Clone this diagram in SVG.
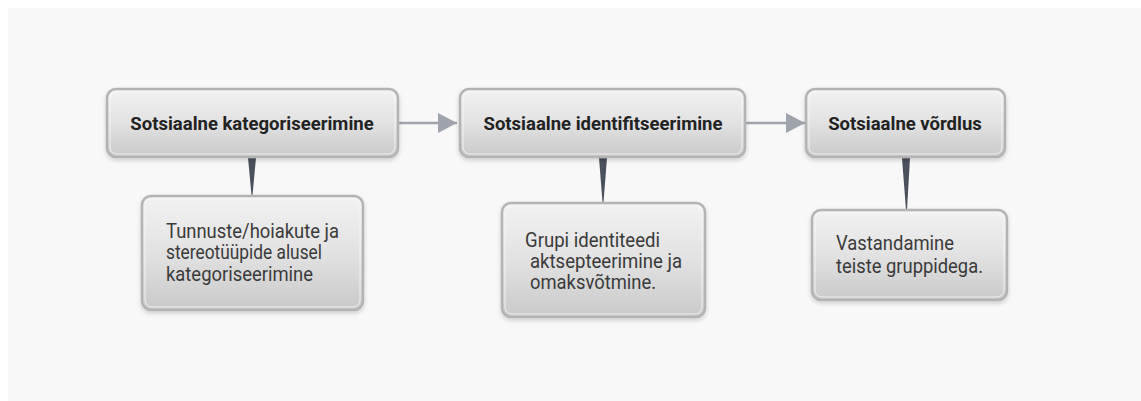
<svg xmlns="http://www.w3.org/2000/svg" width="1141" height="401" viewBox="0 0 1141 401">
<defs>
<linearGradient id="g" x1="0" y1="0" x2="0" y2="1">
<stop offset="0" stop-color="#f2f2f2"/>
<stop offset="0.5" stop-color="#e2e2e2"/>
<stop offset="1" stop-color="#c9c9c9"/>
</linearGradient>
<filter id="sh" x="-10%" y="-10%" width="120%" height="130%">
<feDropShadow dx="0" dy="2" stdDeviation="2" flood-color="#000" flood-opacity="0.18"/>
</filter>
<marker id="ah" markerWidth="20" markerHeight="20" refX="19" refY="10" orient="auto" markerUnits="userSpaceOnUse">
<path d="M0,0 L19,10 L0,20 Z" fill="#9fa3ab"/>
</marker>
</defs>
<style>
.box{fill:url(#g);stroke:#b3b3b3;stroke-width:2.5;filter:url(#sh)}
.hl{fill:none;stroke:#f7f7f7;stroke-width:1;opacity:0.8}
.t{font-family:Roboto,"Liberation Sans",sans-serif;font-size:18.5px;font-weight:bold;fill:#222;text-anchor:middle}
.b{font-family:Roboto,"Liberation Sans",sans-serif;font-size:19.5px;fill:#3a3a3a}
.ln{stroke:#9fa3ab;stroke-width:2.5;fill:none}
.wd{fill:#4a505c}
</style>
<rect x="8" y="8" width="1133" height="393" fill="#f8f8f8"/>
<g id="connectors">
<line class="ln" x1="398" y1="123" x2="457" y2="123" marker-end="url(#ah)"/>
<line class="ln" x1="745" y1="123" x2="805" y2="123" marker-end="url(#ah)"/>
<path class="wd" d="M248,158 L256,158 L252.5,195 L251.5,195 Z"/>
<path class="wd" d="M599,158 L607,158 L603.5,202 L602.5,202 Z"/>
<path class="wd" d="M902,158 L910,158 L907,210 L906,210 Z"/>
</g>
<g id="n1">
<rect class="box" x="107" y="89" width="291" height="68" rx="9"/>
<rect class="hl" x="110" y="92" width="285" height="62" rx="7"/>
<text class="t" x="252" y="130">Sotsiaalne kategoriseerimine</text>
</g>
<g id="n2">
<rect class="box" x="460" y="89" width="285" height="68" rx="9"/>
<rect class="hl" x="463" y="92" width="279" height="62" rx="7"/>
<text class="t" x="603" y="130">Sotsiaalne identifitseerimine</text>
</g>
<g id="n3">
<rect class="box" x="806" y="89" width="199" height="68" rx="9"/>
<rect class="hl" x="809" y="92" width="193" height="62" rx="7"/>
<text class="t" x="905" y="130">Sotsiaalne võrdlus</text>
</g>
<g id="n4">
<rect class="box" x="142" y="196" width="221" height="114" rx="9"/>
<rect class="hl" x="145" y="199" width="215" height="108" rx="7"/>
<text class="b" x="166" y="237.5" textLength="173" lengthAdjust="spacingAndGlyphs">Tunnuste/hoiakute ja</text>
<text class="b" x="166" y="258.5" textLength="156" lengthAdjust="spacingAndGlyphs">stereotüüpide alusel</text>
<text class="b" x="166" y="280.5" textLength="147" lengthAdjust="spacingAndGlyphs">kategoriseerimine</text>
</g>
<g id="n5">
<rect class="box" x="502" y="203" width="203" height="114" rx="9"/>
<rect class="hl" x="505" y="206" width="197" height="108" rx="7"/>
<text class="b" x="525" y="247" textLength="135" lengthAdjust="spacingAndGlyphs">Grupi identiteedi</text>
<text class="b" x="530" y="268" textLength="152" lengthAdjust="spacingAndGlyphs">aktsepteerimine ja</text>
<text class="b" x="530" y="289" textLength="126" lengthAdjust="spacingAndGlyphs">omaksvõtmine.</text>
</g>
<g id="n6">
<rect class="box" x="812" y="210" width="195" height="90" rx="9"/>
<rect class="hl" x="815" y="213" width="189" height="84" rx="7"/>
<text class="b" x="836" y="250" textLength="118" lengthAdjust="spacingAndGlyphs">Vastandamine</text>
<text class="b" x="836" y="273" textLength="147" lengthAdjust="spacingAndGlyphs">teiste gruppidega.</text>
</g>
</svg>
